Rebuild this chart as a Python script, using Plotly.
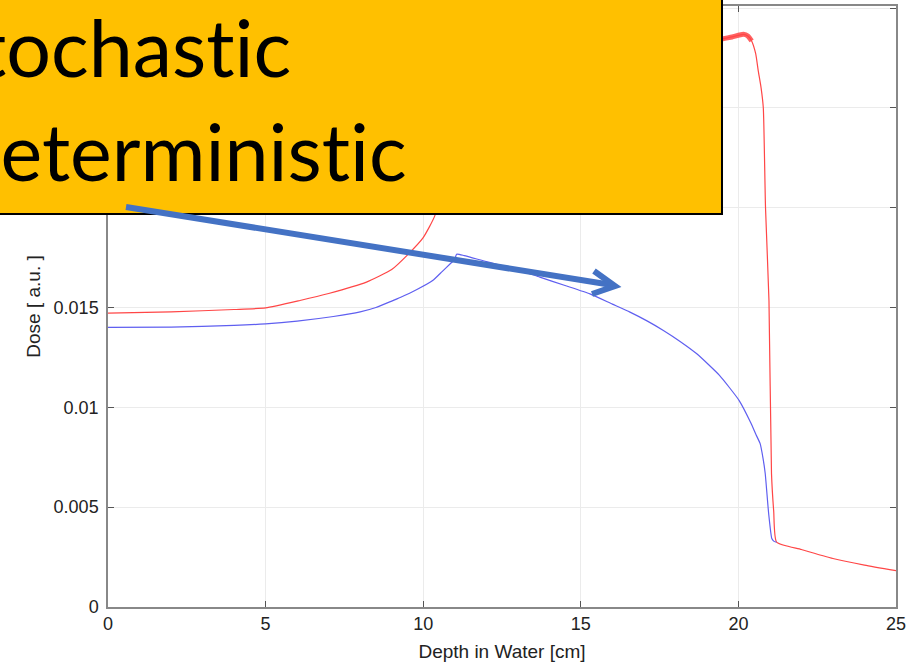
import plotly.graph_objects as go

# ---- data ----
depth_stochastic = [0, 2, 4, 5, 6.09, 7, 8.2, 9, 9.48, 10, 10.37, 10.8, 11.2, 11.6, 12.5, 14, 16, 18,
                    19.0, 19.42, 19.8, 20.16, 20.3, 20.42, 20.55, 20.63, 20.72, 20.79, 20.86, 20.97,
                    21.05, 21.12, 21.21, 22, 23, 24, 25]
dose_stochastic = [0.01472, 0.01478, 0.0149, 0.01498, 0.01535, 0.0157, 0.01627, 0.0169, 0.0176, 0.0185,
                   0.0196, 0.0225, 0.0255, 0.0268, 0.0274, 0.0277, 0.0279, 0.0281,
                   0.02825, 0.02843, 0.02855, 0.02868, 0.0286, 0.02835, 0.0277, 0.02685, 0.0260,
                   0.0250, 0.0200, 0.01535, 0.00668, 0.0048, 0.00325,
                   0.00288, 0.00243, 0.0021, 0.00182]

depth_deterministic = [0, 2, 4, 5, 6, 7.15, 8, 8.5, 9, 9.27, 9.8, 10.3, 10.6, 10.85, 11.0, 11.06,
                       11.3, 12, 13, 13.7, 14.5, 15.29, 16.0, 16.56, 17.1, 17.62, 18.15, 18.68, 19.4,
                       20.02, 20.4, 20.55, 20.69, 20.78, 20.85, 20.96, 21.06, 21.12, 21.21]
dose_deterministic = [0.0140, 0.01402, 0.0141, 0.01418, 0.01432, 0.01455, 0.01478, 0.0150, 0.01532,
                      0.0155, 0.0159, 0.01635, 0.0168, 0.01718, 0.0174, 0.01767,
                      0.0176, 0.0173, 0.0169, 0.01652, 0.0161, 0.01568, 0.01517, 0.01477, 0.01433,
                      0.01385, 0.0133, 0.01268, 0.0116,
                      0.01035, 0.0092, 0.00866, 0.00818, 0.00746, 0.0067, 0.00468, 0.00343, 0.0033,
                      0.00324]

x_ticks = [0, 5, 10, 15, 20, 25]
y_ticks = [0, 0.005, 0.01, 0.015, 0.02, 0.025, 0.03]
y_ticklabels = ["0", "0.005", "0.01", "0.015", "0.02", "0.025", "0.03"]

box_lines = ["Stochastic", "Deterministic"]

# ---- layout geometry ----
W, H = 922, 663
L, R, T, B = 108, 26, 6, 56
PW, PH = W - L - R, H - T - B


def px2x(px):
    return (px - L) / PW


def px2y(py):
    return (H - B - py) / PH


red = "rgb(255,70,70)"
blue = "rgb(95,95,240)"

fig = go.Figure()
fig.add_trace(go.Scatter(x=depth_stochastic, y=dose_stochastic, mode="lines",
                         line=dict(color=red, width=1.2, shape="spline", smoothing=0.5),
                         showlegend=False))
# noisy (thick) region of the Monte Carlo curve near the peak
peak_x = [x for x in depth_stochastic if 18 <= x <= 20.5]
peak_y = [y for x, y in zip(depth_stochastic, dose_stochastic) if 18 <= x <= 20.5]
fig.add_trace(go.Scatter(x=peak_x, y=peak_y, mode="lines",
                         line=dict(color=red, width=5, shape="spline", smoothing=0.5),
                         opacity=0.85, showlegend=False))
fig.add_trace(go.Scatter(x=depth_deterministic, y=dose_deterministic, mode="lines",
                         line=dict(color=blue, width=1.2, shape="spline", smoothing=0.5),
                         showlegend=False))

axis_font = dict(family="Liberation Sans, Arial, sans-serif", size=18, color="#222")
title_font = dict(family="Liberation Sans, Arial, sans-serif", size=19, color="#222")

fig.update_xaxes(range=[0, 25], tickvals=x_ticks, ticks="inside", ticklen=6, tickcolor="#555",
                 showline=True, linecolor="#888", linewidth=1.5, mirror="allticks",
                 showgrid=True, gridcolor="#ebebeb", gridwidth=1, zeroline=False,
                 tickfont=axis_font, automargin=False,
                 title=dict(text="Depth in Water [cm]", font=title_font, standoff=11))
fig.update_yaxes(range=[0, 0.0301], tickvals=y_ticks, ticktext=y_ticklabels, ticks="inside",
                 ticklen=6, tickcolor="#555", showline=True, linecolor="#888", linewidth=1.5,
                 mirror="allticks", showgrid=True, gridcolor="#ebebeb", gridwidth=1, zeroline=False,
                 tickfont=axis_font, ticklabelstandoff=4, automargin=False,
                 title=dict(text="Dose [ a.u. ]", font=title_font, standoff=8))

# yellow callout box
fig.add_shape(type="rect", xref="paper", yref="paper",
              x0=px2x(-10), x1=px2x(722), y0=px2y(214), y1=px2y(-10),
              fillcolor="#FFC000", line=dict(color="black", width=2), layer="above")

# arrow
arrow_col = "#4472C4"
fig.add_shape(type="line", xref="paper", yref="paper",
              x0=px2x(126), y0=px2y(207), x1=px2x(612), y1=px2y(285),
              line=dict(color=arrow_col, width=6), layer="above")
fig.add_shape(type="path", xref="paper", yref="paper",
              path=f"M {px2x(594)} {px2y(271)} L {px2x(615)} {px2y(286)} L {px2x(592)} {px2y(294)}",
              line=dict(color=arrow_col, width=6), layer="above")

text_font = dict(family="Lato, 'Open Sans', sans-serif", size=79, color="black")
nolig = "<span style='font-variant-ligatures:none'>{}</span>"
fig.add_annotation(xref="paper", yref="paper", x=px2x(293), y=px2y(46), xanchor="right",
                   yanchor="middle", text=nolig.format(box_lines[0]), showarrow=False, font=text_font)
fig.add_annotation(xref="paper", yref="paper", x=px2x(409), y=px2y(150), xanchor="right",
                   yanchor="middle", text=nolig.format(box_lines[1]), showarrow=False, font=text_font)

fig.update_layout(width=W, height=H, margin=dict(l=L, r=R, t=T, b=B, autoexpand=False),
                  plot_bgcolor="white", paper_bgcolor="white")

fig.write_html("out.html", config={"displayModeBar": False},
               post_script="document.body.style.margin='0';")
